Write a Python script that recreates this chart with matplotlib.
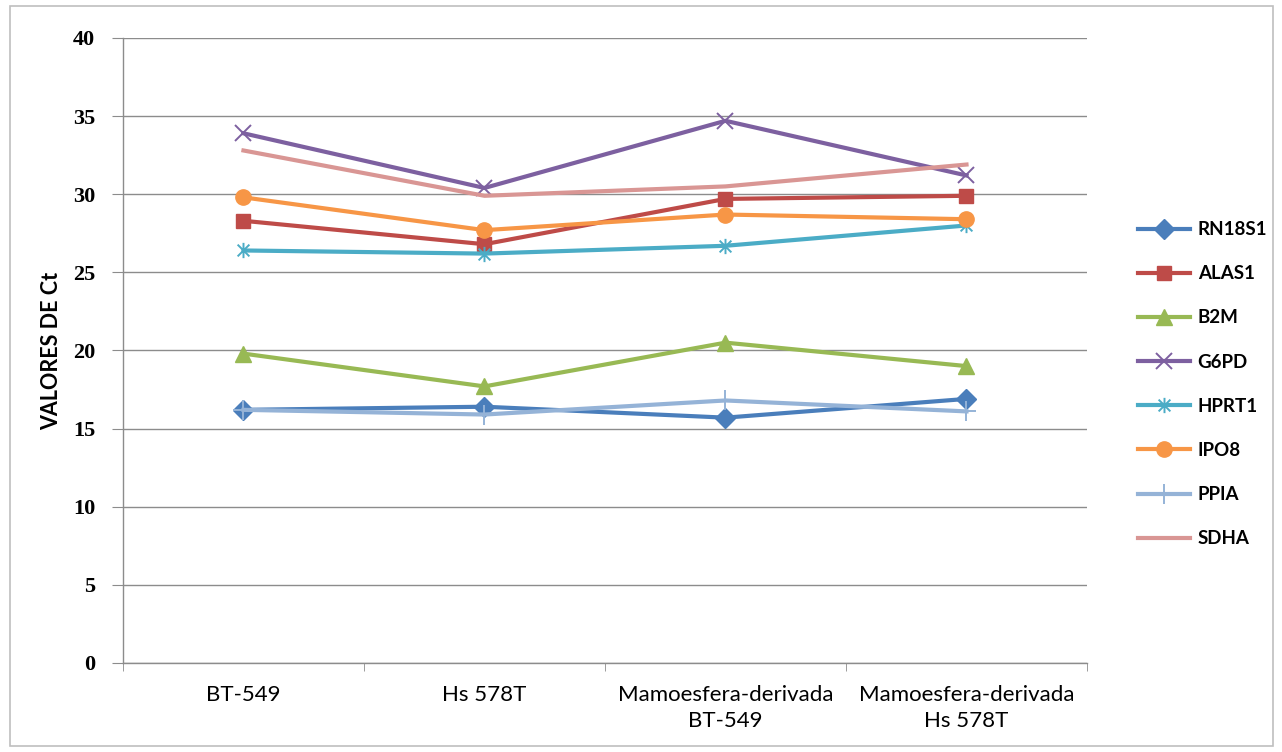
import numpy as np
import matplotlib
matplotlib.use("Agg")
import matplotlib.pyplot as plt
from matplotlib.path import Path
from matplotlib.patches import Rectangle

# categories and Ct values
categorias = ["BT-549", "Hs 578T", "Mamoesfera-derivada\nBT-549", "Mamoesfera-derivada\nHs 578T"]
RN18S1 = [16.2, 16.4, 15.7, 16.9]
ALAS1 = [28.3, 26.8, 29.7, 29.9]
B2M = [19.8, 17.7, 20.5, 19.0]
G6PD = [33.9, 30.4, 34.7, 31.2]
HPRT1 = [26.4, 26.2, 26.7, 28.0]
IPO8 = [29.8, 27.7, 28.7, 28.4]
PPIA = [16.2, 15.9, 16.8, 16.1]
SDHA = [32.8, 29.9, 30.5, 31.9]

# asterisco tipo Excel (x + linea vertical)
asterisco = Path(
    [(-1, -1), (1, 1), (-1, 1), (1, -1), (0, -1.3), (0, 1.3)],
    [Path.MOVETO, Path.LINETO, Path.MOVETO, Path.LINETO, Path.MOVETO, Path.LINETO],
)

series = [
    ("RN18S1", RN18S1, "#4A7EBB", "D", 10),
    ("ALAS1", ALAS1, "#BE4B48", "s", 10),
    ("B2M", B2M, "#98B954", "^", 11),
    ("G6PD", G6PD, "#7D60A0", "x", 12),
    ("HPRT1", HPRT1, "#4BACC6", asterisco, 11),
    ("IPO8", IPO8, "#F79646", "o", 11),
    ("PPIA", PPIA, "#95B3D7", "+", 15),
    ("SDHA", SDHA, "#D99694", None, 0),
]

fuente = ["Liberation Sans Narrow", "Lato", "DejaVu Sans"]

fig = plt.figure(figsize=(12.82, 7.52), dpi=100)
fig.patches.append(Rectangle((0.008, 0.008), 0.985, 0.984, transform=fig.transFigure,
                             fill=False, edgecolor="#BFBFBF", lw=1.2))
ax = fig.add_axes([0.0959, 0.1184, 0.7520, 0.8311])

x = np.arange(len(categorias))
for nombre, vals, col, mk, ms in series:
    mew = 1.4 if mk in ("x", "+") or mk is asterisco else 1
    ax.plot(x, vals, color=col, lw=3, marker=mk, markersize=ms,
            markeredgewidth=mew, markeredgecolor=col, markerfacecolor=col, label=nombre)

ax.set_ylim(0, 40)
ax.set_xlim(-0.5, 3.5)
ax.set_yticks(np.arange(0, 41, 5))
ax.yaxis.grid(True, color="#8C8C8C", lw=1)
ax.set_axisbelow(True)

for s in ["top", "right"]:
    ax.spines[s].set_visible(False)
for s in ["left", "bottom"]:
    ax.spines[s].set_color("#8C8C8C")
    ax.spines[s].set_linewidth(1)

ax.set_xticks(x)
ax.set_xticklabels(categorias, fontsize=16, family=fuente, linespacing=1.35)
ax.set_xticks(np.arange(-0.5, 3.6, 1), minor=True)
ax.tick_params(axis="x", which="major", length=0, pad=16)
ax.tick_params(axis="x", which="minor", length=6, color="#8C8C8C", direction="out")
ax.tick_params(axis="y", length=8, color="#8C8C8C", pad=12, labelsize=16)
for t in ax.get_yticklabels():
    t.set_family("Liberation Serif")
    t.set_fontweight("bold")

ax.set_ylabel("VALORES DE Ct", fontsize=15.5, fontweight="bold", family=fuente, labelpad=8)

leg = ax.legend(loc="center left", bbox_to_anchor=(1.035, 0.446), frameon=False,
                handlelength=2.8, handletextpad=0.4, labelspacing=1.45,
                prop={"family": fuente, "size": 13.5, "weight": "bold"})

fig.savefig("out.png", dpi=100)
